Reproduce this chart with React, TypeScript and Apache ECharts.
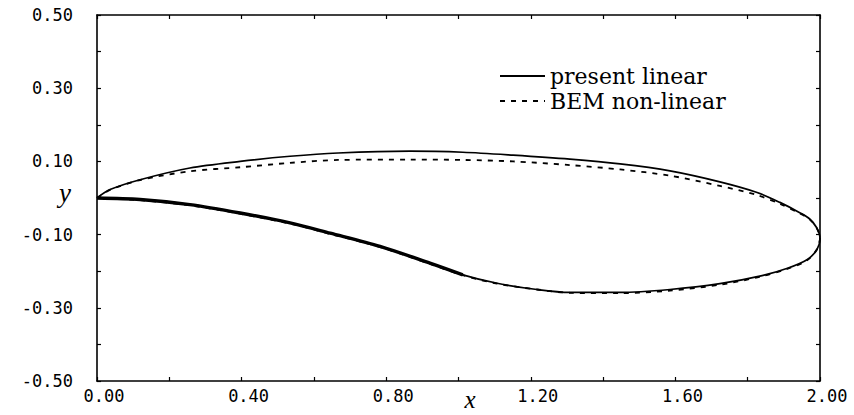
import React, { useEffect, useRef } from "react";
import * as echarts from "echarts";

// "present linear" — closed curve: upper surface LE -> TE, then lower surface TE -> LE
const presentUpperX = [0, 0.036, 0.119, 0.257, 0.396, 0.534, 0.667, 0.866, 1.012, 1.151, 1.308, 1.447, 1.585, 1.723, 1.826, 1.889, 1.944, 1.97, 1.99, 2.0];
const presentUpperY = [0, 0.023, 0.05, 0.082, 0.1, 0.114, 0.123, 0.128, 0.125, 0.117, 0.106, 0.093, 0.074, 0.044, 0.015, -0.012, -0.04, -0.056, -0.08, -0.11];
const presentLowerX = [2.0, 1.992, 1.965, 1.91, 1.84, 1.723, 1.585, 1.447, 1.308, 1.217, 1.107, 1.012, 0.921, 0.783, 0.645, 0.534, 0.396, 0.257, 0.119, 0];
const presentLowerY = [-0.11, -0.14, -0.168, -0.192, -0.212, -0.234, -0.25, -0.258, -0.258, -0.25, -0.233, -0.21, -0.178, -0.132, -0.096, -0.068, -0.041, -0.018, -0.004, 0];

// "BEM non-linear"
const bemUpperX = [0, 0.036, 0.119, 0.257, 0.396, 0.534, 0.667, 0.866, 1.012, 1.151, 1.308, 1.447, 1.585, 1.723, 1.826, 1.889, 1.944, 1.97, 1.99, 2.0];
const bemUpperY = [0, 0.022, 0.049, 0.073, 0.084, 0.096, 0.104, 0.105, 0.104, 0.1, 0.09, 0.078, 0.061, 0.033, 0.008, -0.016, -0.042, -0.057, -0.08, -0.11];
const bemLowerX = [2.0, 1.99, 1.962, 1.905, 1.835, 1.723, 1.585, 1.447, 1.308, 1.217, 1.107, 1.012, 0.921, 0.783, 0.645, 0.534, 0.396, 0.257, 0.119, 0];
const bemLowerY = [-0.11, -0.143, -0.172, -0.195, -0.215, -0.237, -0.253, -0.26, -0.259, -0.25, -0.234, -0.211, -0.18, -0.134, -0.098, -0.07, -0.043, -0.02, -0.006, 0];

const seriesNames = ["present linear", "BEM non-linear"];
const xLabelStep = 0.4;
const yLabelStep = 0.2;

const zip = (xs: number[], ys: number[]) => xs.map((x, i) => [x, ys[i]]);

export default function App() {
  const ref = useRef<HTMLDivElement>(null);
  useEffect(() => {
    if (!ref.current) return;
    const chart = echarts.init(ref.current, undefined, { renderer: "svg" });
    const present = [...zip(presentUpperX, presentUpperY), ...zip(presentLowerX, presentLowerY)];
    const bem = [...zip(bemUpperX, bemUpperY), ...zip(bemLowerX, bemLowerY)];
    // overlap of both curves on the forward lower surface (drawn heavier in the reference)
    const overlap = zip(presentLowerX, presentLowerY).filter((p) => p[0] <= 1.02);

    const axisLine = { show: true, onZero: false, lineStyle: { color: "#000", width: 1.6 } };
    const axisTick = { show: true, inside: true, length: 4, lineStyle: { color: "#000", width: 1.2 } };
    const labelFont = { fontFamily: "DejaVu Sans Mono", fontSize: 17, color: "#000" };

    chart.setOption({
      animation: false,
      backgroundColor: "#fff",
      grid: { left: 97, right: 34, top: 15, bottom: 34 },
      legend: {
        data: seriesNames,
        orient: "vertical",
        left: 494,
        top: 60,
        itemWidth: 45,
        itemHeight: 10,
        itemGap: 3,
        itemStyle: { color: "transparent", borderWidth: 0, opacity: 0 },
        textStyle: { fontFamily: "DejaVu Serif", fontSize: 22, color: "#000", lineHeight: 20 },
      },
      xAxis: [
        {
          type: "value",
          min: 0,
          max: 2,
          interval: 0.2,
          position: "bottom",
          axisLine,
          axisTick,
          splitLine: { show: false },
          axisLabel: {
            ...labelFont,
            margin: 6,
            padding: [0, 0, 0, 14],
            formatter: (v: number) => (Math.round(v / 0.2) % Math.round(xLabelStep / 0.2) === 0 ? v.toFixed(2) : ""),
          },
        },
        {
          type: "value",
          min: 0,
          max: 2,
          interval: 0.2,
          position: "top",
          axisLine,
          axisTick,
          splitLine: { show: false },
          axisLabel: { show: false },
        },
      ],
      yAxis: [
        {
          type: "value",
          min: -0.5,
          max: 0.5,
          interval: 0.1,
          position: "left",
          axisLine,
          axisTick,
          splitLine: { show: false },
          axisLabel: {
            ...labelFont,
            margin: 24,
            formatter: (v: number) =>
              Math.abs(Math.round((v + 0.5) / 0.1)) % Math.round(yLabelStep / 0.1) === 0 ? v.toFixed(2) : "",
          },
        },
        {
          type: "value",
          min: -0.5,
          max: 0.5,
          interval: 0.1,
          position: "right",
          axisLine,
          axisTick,
          splitLine: { show: false },
          axisLabel: { show: false },
        },
      ],
      series: [
        {
          name: seriesNames[0],
          type: "line",
          data: present,
          symbol: "none",
          smooth: 0.3,
          clip: false,
          itemStyle: { color: "#000" },
          lineStyle: { color: "#000", width: 1.7, type: "solid" },
          z: 3,
        },
        {
          name: seriesNames[1],
          type: "line",
          data: bem,
          symbol: "none",
          smooth: 0.3,
          clip: false,
          itemStyle: { color: "#000" },
          lineStyle: { color: "#000", width: 1.8, type: [5, 6] },
          z: 2,
        },
        {
          type: "line",
          data: overlap,
          symbol: "none",
          smooth: 0.3,
          clip: false,
          silent: true,
          lineStyle: { color: "#000", width: 3.4 },
          z: 4,
        },
      ],
      graphic: [
        {
          type: "text",
          x: 65,
          y: 193,
          style: {
            text: "y",
            fontFamily: "Liberation Serif",
            fontStyle: "italic",
            fontSize: 27,
            fill: "#000",
            align: "center",
            verticalAlign: "middle",
          },
        },
        {
          type: "text",
          x: 470,
          y: 399,
          style: {
            text: "x",
            fontFamily: "Liberation Serif",
            fontStyle: "italic",
            fontSize: 25,
            fill: "#000",
            align: "center",
            verticalAlign: "middle",
          },
        },
      ],
    });
    return () => chart.dispose();
  }, []);
  return <div ref={ref} style={{ width: 854, height: 415, position: "absolute", left: 0, top: 0 }} />;
}
